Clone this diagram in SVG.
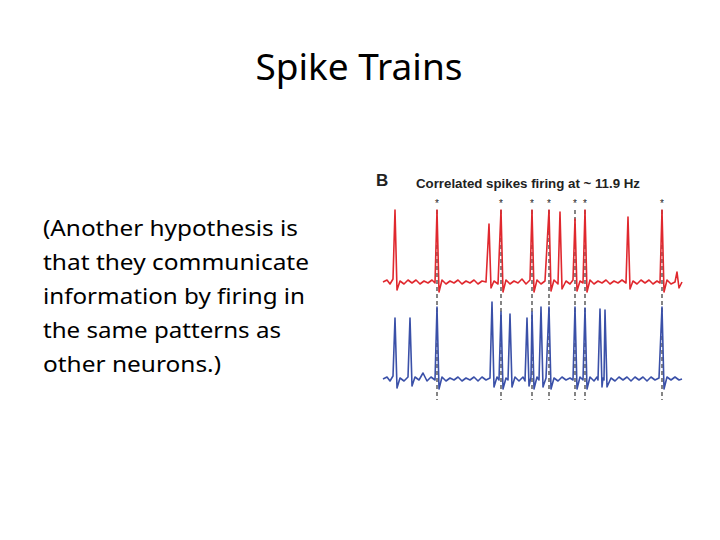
<svg xmlns="http://www.w3.org/2000/svg" width="720" height="540" viewBox="0 0 720 540">
<style>
.t{font-family:"Noto Sans","Open Sans",sans-serif;fill:#000}
.f{font-family:"Liberation Sans",Arial,sans-serif;font-weight:bold;fill:#222}
.red{fill:none;stroke:#e0282e;stroke-width:1.6;stroke-linejoin:round}
.blue{fill:none;stroke:#3a50a8;stroke-width:1.6;stroke-linejoin:round}
.d{stroke:#222;stroke-width:1.1;stroke-dasharray:4,3}
</style>
<rect width="720" height="540" fill="#fff"/>
<g id="title"><text class="t" x="359" y="80" font-size="37" text-anchor="middle">Spike Trains</text></g>
<g id="body" font-size="22">
<text class="t" x="43" y="236" textLength="255" lengthAdjust="spacingAndGlyphs">(Another hypothesis is</text>
<text class="t" x="43" y="270" textLength="266" lengthAdjust="spacingAndGlyphs">that they communicate</text>
<text class="t" x="43" y="304" textLength="262" lengthAdjust="spacingAndGlyphs">information by firing in</text>
<text class="t" x="43" y="338" textLength="238" lengthAdjust="spacingAndGlyphs">the same patterns as</text>
<text class="t" x="43" y="372" textLength="178" lengthAdjust="spacingAndGlyphs">other neurons.)</text>
</g>
<g id="figure">
<text class="f" x="376" y="186" font-size="17">B</text>
<text class="f" x="416" y="188" font-size="12.5" textLength="224" lengthAdjust="spacingAndGlyphs">Correlated spikes firing at ~ 11.9 Hz</text>
<g font-family="Liberation Sans,sans-serif" font-size="10" fill="#222" text-anchor="middle">
<text x="437" y="207">*</text><text x="501" y="207">*</text><text x="532" y="207">*</text><text x="549" y="207">*</text><text x="575" y="207">*</text><text x="585" y="207">*</text><text x="662" y="207">*</text>
</g>
<g id="connectors">
<line class="d" x1="437" y1="210" x2="437" y2="400"/>
<line class="d" x1="501" y1="210" x2="501" y2="400"/>
<line class="d" x1="532" y1="210" x2="532" y2="400"/>
<line class="d" x1="549" y1="210" x2="549" y2="400"/>
<line class="d" x1="575" y1="210" x2="575" y2="400"/>
<line class="d" x1="585" y1="210" x2="585" y2="400"/>
<line class="d" x1="662" y1="210" x2="662" y2="400"/>
</g>
<path class="red" d="M383 282 L387 280 L390 284 L393 279 L395 210 L397 290 L400 281 L404 284 L408 280 L412 283 L416 280 L420 284 L424 281 L428 283 L432 280 L435 283 L437 210 L439 292 L442 280 L446 284 L450 281 L454 283 L458 280 L462 284 L466 281 L470 283 L474 280 L478 284 L482 281 L486 282 L489 224 L491 288 L494 281 L498 284 L501 210 L503 292 L506 280 L510 284 L514 281 L518 283 L522 279 L526 284 L530 280 L532 210 L534 292 L537 280 L541 284 L545 281 L549 210 L551 291 L554 280 L558 284 L560 212 L562 289 L566 281 L570 284 L573 280 L575 219 L577 291 L580 281 L583 283 L585 210 L587 292 L590 280 L594 284 L598 281 L602 283 L606 280 L610 284 L614 281 L618 283 L622 280 L626 283 L628 217 L630 289 L633 281 L637 284 L641 280 L645 283 L649 280 L653 284 L657 281 L660 283 L662 210 L664 292 L667 280 L671 284 L675 282 L677 272 L679 288 L682 282"/>
<path class="blue" d="M383 379 L387 377 L390 381 L393 376 L395 318 L397 388 L400 378 L404 381 L408 377 L410 318 L412 386 L415 377 L419 380 L423 373 L427 381 L431 377 L435 380 L437 307 L439 389 L442 377 L446 381 L450 378 L454 380 L458 377 L462 381 L466 378 L470 380 L474 377 L478 381 L482 377 L486 380 L490 378 L492 302 L494 387 L497 377 L499 380 L501 312 L503 389 L506 378 L508 380 L510 314 L512 387 L515 377 L519 381 L523 377 L525 381 L527 318 L529 386 L531 377 L532 312 L534 389 L537 377 L539 380 L541 307 L543 387 L546 378 L549 307 L551 389 L554 378 L558 381 L562 377 L566 380 L570 378 L573 380 L575 307 L577 389 L580 377 L583 380 L585 308 L587 389 L590 377 L594 381 L597 377 L598 380 L600 309 L602 387 L603 378 L604 380 L605 310 L607 387 L611 378 L615 381 L619 377 L623 380 L627 377 L631 381 L635 377 L639 380 L643 377 L647 381 L651 377 L655 380 L659 378 L662 307 L664 389 L667 377 L671 380 L675 377 L679 380 L682 379"/>
</g>
</svg>
